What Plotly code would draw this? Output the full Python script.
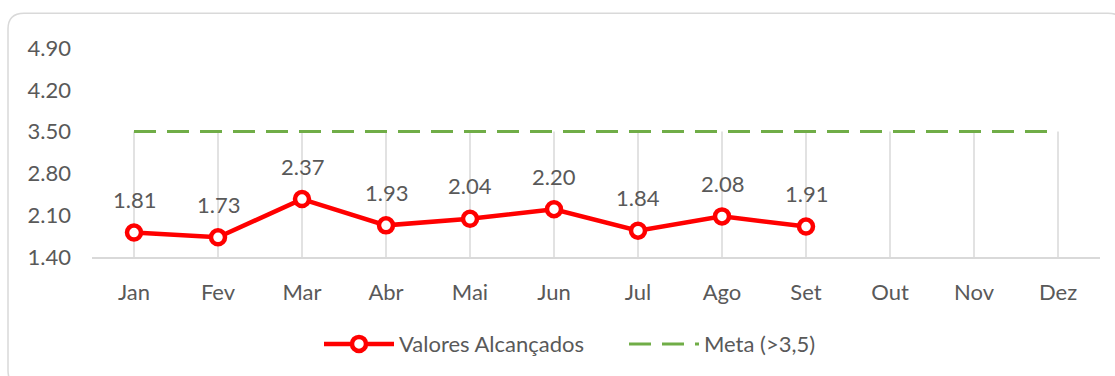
import plotly.graph_objects as go

# Monthly values and target
meses = ["Jan", "Fev", "Mar", "Abr", "Mai", "Jun", "Jul", "Ago", "Set", "Out", "Nov", "Dez"]
valores = [1.81, 1.73, 2.37, 1.93, 2.04, 2.20, 1.84, 2.08, 1.91]
meta = [3.5, 3.5, 3.5, 3.5, 3.5, 3.5, 3.5, 3.5, 3.5, 3.5, 3.5, 3.5]
y_ticks = [1.40, 2.10, 2.80, 3.50, 4.20, 4.90]

W, H = 1115, 376
ML, MR, MT, MB = 92, 15, 48, 118
FONT = "Lato"
FS = 22
GRAY_TXT = "#595959"
GRAY_LN = "#D9D9D9"

fig = go.Figure()

# drop lines from the axis up to the target line
dx, dy = [], []
for m, v in zip(meses, meta):
    dx += [m, m, None]
    dy += [y_ticks[0], v, None]
fig.add_trace(go.Scatter(
    x=dx, y=dy, mode="lines", line=dict(color=GRAY_LN, width=1.5),
    hoverinfo="skip", showlegend=False,
))

fig.add_trace(go.Scatter(
    x=meses[:len(valores)], y=valores, mode="lines+markers",
    name="Valores Alcançados",
    line=dict(color="#FF0000", width=4.5),
    marker=dict(symbol="circle", size=14, color="white",
                line=dict(color="#FF0000", width=4.5)),
))

fig.add_trace(go.Scatter(
    x=meses, y=meta, mode="lines", name="Meta (>3,5)",
    line=dict(color="#70AD47", width=3, dash="22px,11px"),
))

for m, v in zip(meses, valores):
    fig.add_annotation(
        x=m, y=v, text=f"{v:.2f}", showarrow=False, yshift=33,
        font=dict(family=FONT, size=FS, color=GRAY_TXT),
    )

# rounded chart border (pixel geometry converted to paper units)
pw, ph = W - ML - MR, H - MT - MB


def px(x):
    return (x - ML) / pw


def py(y):
    return (H - MB - y) / ph


x0, y0, x1, y1, r = 8, 13, 1124, 388, 16
path = (
    f"M {px(x0 + r)},{py(y0)} L {px(x1 - r)},{py(y0)} "
    f"Q {px(x1)},{py(y0)} {px(x1)},{py(y0 + r)} "
    f"L {px(x1)},{py(y1 - r)} Q {px(x1)},{py(y1)} {px(x1 - r)},{py(y1)} "
    f"L {px(x0 + r)},{py(y1)} Q {px(x0)},{py(y1)} {px(x0)},{py(y1 - r)} "
    f"L {px(x0)},{py(y0 + r)} Q {px(x0)},{py(y0)} {px(x0 + r)},{py(y0)} Z"
)
fig.add_shape(type="path", path=path, xref="paper", yref="paper",
              line=dict(color=GRAY_LN, width=1.5), layer="below")

fig.update_layout(
    width=W, height=H,
    margin=dict(l=ML, r=MR, t=MT, b=MB),
    paper_bgcolor="white", plot_bgcolor="white",
    font=dict(family=FONT, size=FS, color=GRAY_TXT),
    showlegend=True,
    legend=dict(
        orientation="h", x=px(319), xanchor="left", y=-0.31, yanchor="top",
        font=dict(family=FONT, size=FS, color=GRAY_TXT),
        itemwidth=70, entrywidth=220,
    ),
    xaxis=dict(
        type="category", categoryorder="array", categoryarray=meses,
        range=[-0.5, len(meses) - 0.5],
        showgrid=False, zeroline=False,
        showline=True, linecolor=GRAY_LN, linewidth=1.5,
        ticks="", ticklabelstandoff=15,
        tickfont=dict(family=FONT, size=FS, color=GRAY_TXT),
    ),
    yaxis=dict(
        range=[y_ticks[0], y_ticks[-1]],
        tickvals=y_ticks, ticktext=[f"{t:.2f}" for t in y_ticks],
        showgrid=False, zeroline=False, showline=False,
        ticks="", ticklabelstandoff=20,
        tickfont=dict(family=FONT, size=FS, color=GRAY_TXT),
    ),
)

fig.write_html("out.html")
